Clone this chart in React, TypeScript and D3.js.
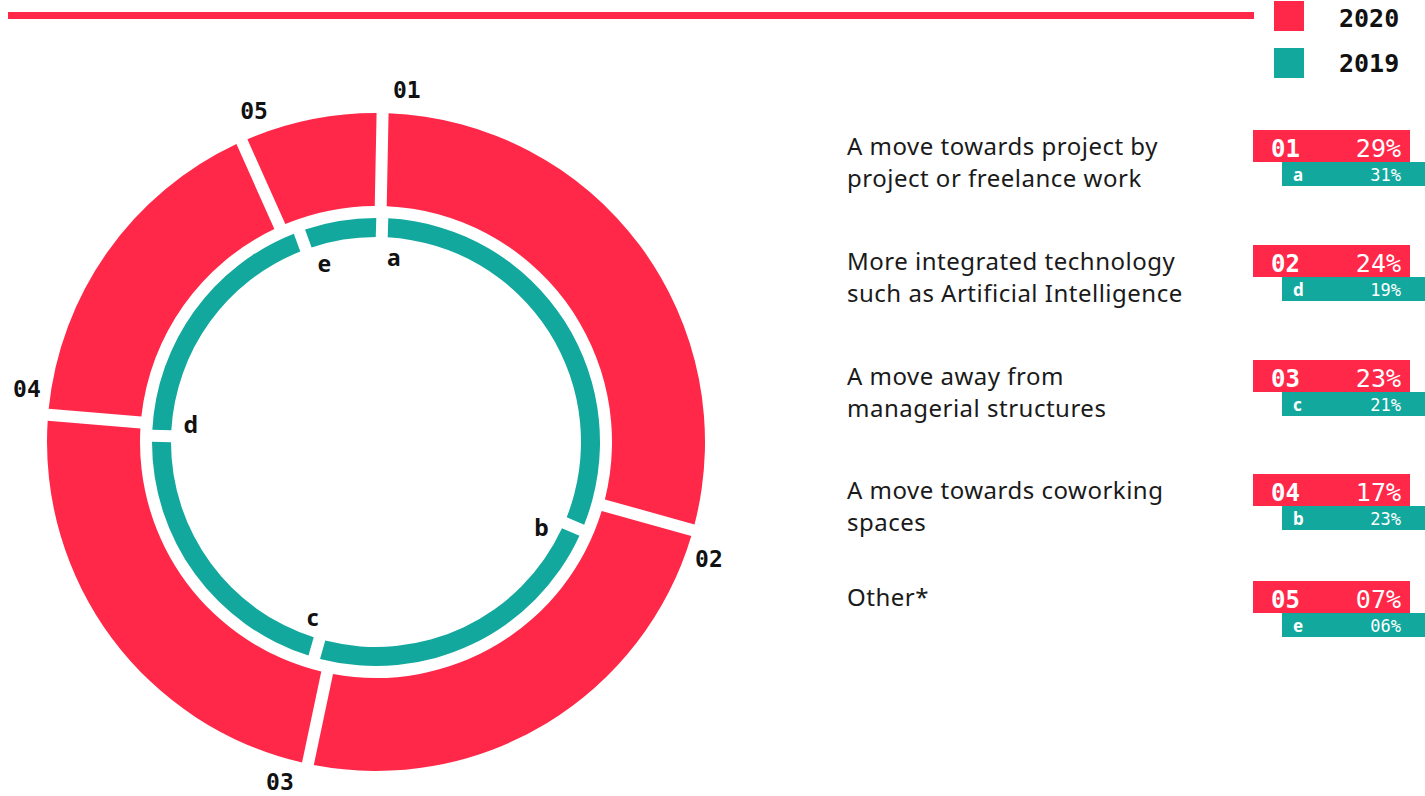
import React from "react";
import * as d3 from "d3";

const codes2020 = ["01", "02", "03", "04", "05"];
const values2020 = [29, 24, 23, 17, 7];
const codes2019 = ["a", "b", "c", "d", "e"];
const values2019 = [31, 23, 21, 19, 6];
// legend table rows (2020 order) with matching 2019 code/value
const rowLabels = [
  ["A move towards project by", "project or freelance work"],
  ["More integrated technology", "such as Artificial Intelligence"],
  ["A move away from", "managerial structures"],
  ["A move towards coworking", "spaces"],
  ["Other*"],
];
const rowCodes2019 = ["a", "d", "c", "b", "e"];
const rowValues2019 = [31, 19, 21, 23, 6];
const seriesNames = ["2020", "2019"];

const RED = "#FF2849";
const TEAL = "#12A89E";
const W = 1425;
const H = 796;
const CX = 376;
const CY = 442;
const rowTops = [130, 245, 360, 474, 581];
const MONO = "'DejaVu Sans Mono', monospace";
const SANS = "'Noto Sans', sans-serif";

const pad = (n: number) => (n < 10 ? "0" + n : "" + n);

export default function App() {
  const pie = d3.pie<number>().sort(null).value((d) => d);
  const outerArcs = pie(values2020);
  const innerArcs = pie(values2019);

  const gap = 12;
  const outerArc = d3
    .arc<any>()
    .innerRadius(236)
    .outerRadius(329)
    .padRadius(100)
    .padAngle(gap / 100);
  const innerArc = d3
    .arc<any>()
    .innerRadius(205)
    .outerRadius(224)
    .padRadius(100)
    .padAngle(gap / 100);
  const offO = gap / 2 / 300;
  const offI = gap / 2 / 214;
  const deg = Math.PI / 180;

  const polar = (a: number, r: number) => [CX + r * Math.sin(a), CY - r * Math.cos(a)];

  return (
    <svg
      width={W}
      height={H}
      style={{ position: "absolute", left: 0, top: 0, display: "block", background: "#fff" }}
    >
      {/* top rule */}
      <rect x={8} y={12} width={1246} height={7} fill={RED} />
      {/* legend */}
      {seriesNames.map((s, i) => (
        <g key={s}>
          <rect x={1274} y={1 + i * 47} width={30} height={30} fill={i === 0 ? RED : TEAL} />
          <text
            x={1339}
            y={27 + i * 45}
            fontFamily={MONO}
            fontWeight="bold"
            fontSize={25}
            fill="#111"
          >
            {s}
          </text>
        </g>
      ))}

      {/* outer ring 2020 */}
      {outerArcs.map((a, i) => (
        <path
          key={"o" + i}
          d={outerArc({ ...a, startAngle: a.startAngle + offO, endAngle: a.endAngle + offO }) || ""}
          transform={`translate(${CX},${CY})`}
          fill={RED}
        />
      ))}
      {/* inner ring 2019 */}
      {innerArcs.map((a, i) => (
        <path
          key={"i" + i}
          d={innerArc({ ...a, startAngle: a.startAngle + offI, endAngle: a.endAngle + offI }) || ""}
          transform={`translate(${CX},${CY})`}
          fill={TEAL}
        />
      ))}
      {/* outer labels */}
      {outerArcs.map((a, i) => {
        const [x, y] = polar(a.startAngle + 5 * deg, 353);
        return (
          <text
            key={"ol" + i}
            x={x}
            y={y}
            textAnchor="middle"
            dominantBaseline="central"
            fontFamily={MONO}
            fontWeight="bold"
            fontSize={23}
            fill="#111"
          >
            {codes2020[i]}
          </text>
        );
      })}
      {/* inner labels */}
      {innerArcs.map((a, i) => {
        const [x, y] = polar(a.startAngle + 5.5 * deg, 186);
        return (
          <text
            key={"il" + i}
            x={x}
            y={y}
            textAnchor="middle"
            dominantBaseline="central"
            fontFamily={SANS}
            fontWeight="bold"
            fontSize={23}
            fill="#111"
          >
            {codes2019[i]}
          </text>
        );
      })}

      {/* table */}
      {rowLabels.map((lines, i) => {
        const top = rowTops[i];
        return (
          <g key={"row" + i}>
            {lines.map((l, j) => (
              <text
                key={j}
                x={847}
                y={top + 25 + j * 32}
                fontFamily={SANS}
                fontSize={24}
                letterSpacing={0.5}
                fill="#1a1a1a"
              >
                {l}
              </text>
            ))}
            <rect x={1253} y={top} width={157} height={32} fill={RED} />
            <rect x={1282} y={top + 32} width={143} height={24} fill={TEAL} />
            <text
              x={1271}
              y={top + 27}
              fontFamily={MONO}
              fontWeight="bold"
              fontSize={24}
              fill="#fff"
            >
              {codes2020[i]}
            </text>
            <text
              x={1401}
              y={top + 27}
              textAnchor="end"
              fontFamily={MONO}
              fontSize={25}
              fill="#fff"
            >
              {pad(values2020[i]) + "%"}
            </text>
            <text
              x={1293}
              y={top + 51}
              fontFamily={SANS}
              fontWeight="bold"
              fontSize={17}
              fill="#fff"
            >
              {rowCodes2019[i]}
            </text>
            <text
              x={1401}
              y={top + 51}
              textAnchor="end"
              fontFamily={MONO}
              fontSize={17}
              fill="#fff"
            >
              {pad(rowValues2019[i]) + "%"}
            </text>
          </g>
        );
      })}
    </svg>
  );
}
